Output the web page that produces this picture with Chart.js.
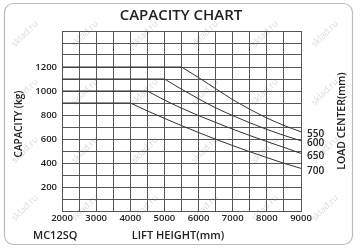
<!DOCTYPE html>
<html>
<head>
<meta charset="utf-8">
<script src="https://cdn.jsdelivr.net/npm/chart.js@4"></script>
<style>
  body { margin: 0; background: #fff; }
  #wrap { width: 360px; height: 252px; }
</style>
</head>
<body>
<div id="wrap"><canvas id="chart"></canvas></div>
<script>
// lift height (mm) and capacity (kg) per load center
const loadCenters = ['550', '600', '650', '700'];

const height550 = [2000, 5500, 6000, 6500, 7000, 7500, 8000, 8500, 9000];
const cap550    = [1200, 1200, 1112, 1020, 928, 848, 775, 713, 660];

const height600 = [2000, 5000, 5500, 6000, 6500, 7000, 7500, 8000, 8500, 9000];
const cap600    = [1100, 1100, 1015, 935, 860, 795, 735, 680, 630, 585];

const height650 = [2000, 4500, 5000, 5500, 6000, 6500, 7000, 7500, 8000, 8500, 9000];
const cap650    = [1000, 1000, 925, 857, 795, 738, 682, 629, 579, 530, 480];

const height700 = [2000, 4000, 4500, 5000, 5500, 6000, 6500, 7000, 7500, 8000, 8500, 9000];
const cap700    = [900, 900, 834, 772, 712, 654, 598, 545, 494, 445, 398, 355];

const xTickLabels = [2000, 3000, 4000, 5000, 6000, 7000, 8000, 9000];
const yTickLabels = [200, 400, 600, 800, 1000, 1200];

const FONT = "'Open Sans', 'DejaVu Sans', sans-serif";
const INK = '#222';

const series = [
    { x: height550, y: cap550 },
    { x: height600, y: cap600 },
    { x: height650, y: cap650 },
    { x: height700, y: cap700 },
];

// flat part and curved part are separate datasets so the corner stays sharp
const datasets = [];
series.forEach((s, i) => {
    const pts = s.x.map((x, j) => ({ x: x, y: s.y[j] }));
    datasets.push({
        label: loadCenters[i] + ' flat',
        data: pts.slice(0, 2),
        borderColor: '#333',
        borderWidth: 1,
        pointRadius: 0,
        tension: 0,
    });
    datasets.push({
        label: loadCenters[i],
        data: pts.slice(1),
        borderColor: '#333',
        borderWidth: 1,
        pointRadius: 0,
        cubicInterpolationMode: 'monotone',
    });
});

const decor = {
    id: 'decor',
    beforeDraw(chart) {
        const ctx = chart.ctx;
        ctx.save();
        ctx.fillStyle = '#fff';
        ctx.fillRect(0, 0, chart.width, chart.height);
        ctx.strokeStyle = '#bbb';
        ctx.lineWidth = 1.2;
        ctx.beginPath();
        ctx.roundRect(4.5, 3.5, 348, 241, 9);
        ctx.stroke();

        // watermark
        ctx.fillStyle = 'rgba(0,0,0,0.16)';
        ctx.font = '9px ' + FONT;
        ctx.textAlign = 'center';
        ctx.textBaseline = 'middle';
        for (let r = 0; r < 4; r++) {
            for (let c = 0; c < 6; c++) {
                ctx.save();
                ctx.translate(25 + c * 60, 34 + r * 58);
                ctx.rotate(-Math.PI / 4);
                ctx.fillText('sklad.ru', 0, 0);
                ctx.restore();
            }
        }
        ctx.restore();
    },
    afterDraw(chart) {
        const ctx = chart.ctx;
        const ys = chart.scales.y;
        const xs = chart.scales.x;
        ctx.save();
        ctx.fillStyle = INK;
        ctx.textBaseline = 'middle';

        ctx.textAlign = 'center';
        ctx.font = '600 15px ' + FONT;
        ctx.fillText('CAPACITY CHART', 181, 16);

        ctx.font = '600 11px ' + FONT;
        ctx.fillText('LIFT HEIGHT(mm)', 178, 236);
        ctx.textAlign = 'left';
        ctx.fillText('MC12SQ', 33, 236);

        // load center labels next to line ends
        ctx.font = '600 10px ' + FONT;
        series.forEach((s, i) => {
            const yEnd = ys.getPixelForValue(s.y[s.y.length - 1]);
            ctx.fillText(loadCenters[i], xs.right + 6, yEnd + 2.5);
        });

        ctx.textAlign = 'center';
        ctx.font = '600 10px ' + FONT;
        ctx.save();
        ctx.translate(19, 124);
        ctx.rotate(-Math.PI / 2);
        ctx.fillText('CAPACITY (kg)', 0, 0);
        ctx.restore();

        ctx.font = '600 10.5px ' + FONT;
        ctx.save();
        ctx.translate(342, 121);
        ctx.rotate(-Math.PI / 2);
        ctx.fillText('LOAD CENTER(mm)', 0, 0);
        ctx.restore();

        ctx.restore();
    }
};

new Chart(document.getElementById('chart'), {
    type: 'line',
    data: { datasets: datasets },
    options: {
        responsive: true,
        maintainAspectRatio: false,
        animation: false,
        layout: { padding: { top: 31, right: 59, bottom: 0, left: 0 } },
        plugins: {
            legend: { display: false },
            tooltip: { enabled: false },
        },
        scales: {
            x: {
                type: 'linear',
                min: 2000,
                max: 9000,
                afterFit: (s) => { s.height = 41; },
                ticks: {
                    stepSize: 500,
                    autoSkip: false,
                    maxRotation: 0,
                    padding: 2,
                    color: INK,
                    font: { family: FONT, size: 9.5, weight: '600' },
                    callback: (v) => xTickLabels.includes(v) ? String(v) : '',
                },
                grid: { color: '#555', drawTicks: false },
                border: { color: '#555' },
            },
            y: {
                min: 0,
                max: 1500,
                afterFit: (s) => { s.width = 62; },
                ticks: {
                    stepSize: 100,
                    autoSkip: false,
                    padding: 5,
                    color: INK,
                    font: { family: FONT, size: 9.5, weight: '600' },
                    callback: (v) => yTickLabels.includes(v) ? String(v) : '',
                },
                grid: { color: '#555', drawTicks: false },
                border: { color: '#555' },
            },
        },
    },
    plugins: [decor],
});
</script>
</body>
</html>
